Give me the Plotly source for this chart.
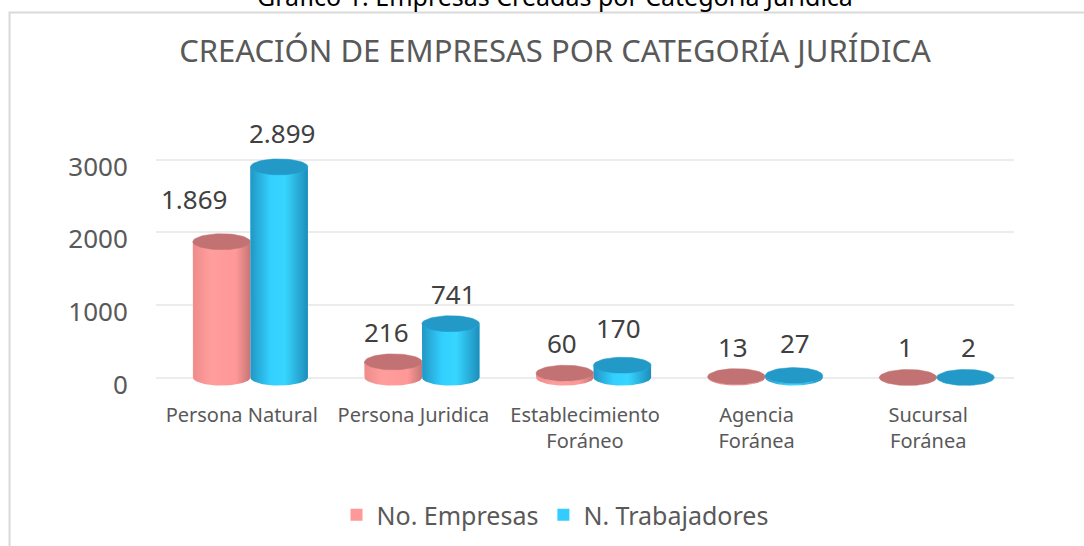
import numpy as np
import plotly.graph_objects as go

# ---------------- data ----------------
categories = ["Persona Natural", "Persona Juridica", "Establecimiento Foráneo",
              "Agencia Foránea", "Sucursal Foránea"]
tick_labels = ["Persona Natural", "Persona Juridica", "Establecimiento<br>Foráneo",
               "Agencia<br>Foránea", "Sucursal<br>Foránea"]
empresas = [1869, 216, 60, 13, 1]
trabajadores = [2899, 741, 170, 27, 2]
y_ticks = [0, 1000, 2000, 3000]
series_names = ["No. Empresas", "N. Trabajadores"]

# ---------------- style ----------------
FONT = "Noto Sans"
GRAY = "#595959"
PINK = "#FF9999"
BLUE = "#33CCFF"
PINK_TOP = "#C27272"
BLUE_TOP = "#2399C8"
PINK_SCALE = [[0, "#EE8C8C"], [0.3, "#FF9D9D"], [0.75, "#FF9898"], [1, "#C77575"]]
BLUE_SCALE = [[0, "#2296C4"], [0.35, "#33D0FF"], [0.6, "#36D6FF"], [1, "#1E8DBB"]]
BAR_W = 0.335
OFFSETS = [-0.285, 0.05]
LABEL_XSHIFT = [-3, 3]
CAP_B = 110  # vertical semi-axis of cylinder ellipses, in y units

x = np.arange(len(categories))
fmt = lambda v: f"{v:,}".replace(",", ".")

fig = go.Figure()

series = [(empresas, PINK, PINK_SCALE, PINK_TOP), (trabajadores, BLUE, BLUE_SCALE, BLUE_TOP)]

# data bars (legend + base)
for (vals, col, _, _), name, off in zip(series, series_names, OFFSETS):
    fig.add_trace(go.Bar(x=x, y=vals, name=name, marker=dict(color=col, line=dict(width=0)),
                         width=BAR_W, offset=off, hoverinfo="x+y"))

# cylinder shading, computed from the data values
t_bot = np.linspace(np.pi, 2 * np.pi, 40)
t_top = np.linspace(0, -np.pi, 40)
t_full = np.linspace(0, 2 * np.pi, 60)
a = BAR_W / 2
for i in range(len(categories)):
    for (vals, col, scale, topcol), off in zip(series, OFFSETS):
        c = x[i] + off + a
        v = vals[i]
        bx = np.concatenate([[c - a, c - a], c + a * np.cos(t_bot), [c + a], c + a * np.cos(t_top)])
        by = np.concatenate([[v, 0], CAP_B * np.sin(t_bot), [v], v + CAP_B * np.sin(t_top)])
        fig.add_trace(go.Scatter(x=bx, y=by, mode="lines", fill="toself", line=dict(width=0),
                                 fillgradient=dict(type="horizontal", colorscale=scale),
                                 showlegend=False, hoverinfo="skip"))
        fig.add_trace(go.Scatter(x=c + a * np.cos(t_full), y=v + CAP_B * np.sin(t_full),
                                 mode="lines", fill="toself", fillcolor=topcol,
                                 line=dict(width=0.5, color=topcol),
                                 showlegend=False, hoverinfo="skip"))

# value labels
label_tweaks = {(0, 0): (-25, 13), (1, 0): (0, 4), (1, 2): (-7, 7), (1, 3): (-2, 3), (0, 1): (-4, 0)}
for s, ((vals, *_), off) in enumerate(zip(series, OFFSETS)):
    for i, v in enumerate(vals):
        dx, dy = label_tweaks.get((s, i), (0, 0))
        fig.add_annotation(x=x[i] + off + a, y=v, text=fmt(v), showarrow=False,
                           xref="x", yref="y", yanchor="bottom",
                           xshift=LABEL_XSHIFT[s] + dx, yshift=10 + dy,
                           font=dict(family=FONT, size=26, color="#404040"))

# cut-off figure caption at the very top
fig.add_annotation(text="Gráfico 1. Empresas Creadas por Categoría Jurídica", xref="paper", yref="paper",
                   x=0.465, y=1.615, yanchor="middle", showarrow=False,
                   font=dict(family=FONT, size=25, color="#000000"))

# frame around chart
fig.add_shape(type="rect", xref="paper", yref="paper", x0=-0.1707, x1=1.1, y0=-0.72, y1=1.548,
              line=dict(color="#D9D9D9", width=2), fillcolor="rgba(0,0,0,0)", layer="below")

fig.update_layout(
    width=1084, height=546,
    paper_bgcolor="white", plot_bgcolor="white",
    margin=dict(l=156, r=70, t=145, b=159, autoexpand=False),
    barmode="overlay",
    font=dict(family=FONT, color=GRAY),
    title=dict(text="CREACIÓN DE EMPRESAS POR CATEGORÍA JURÍDICA", x=0.512, xanchor="center",
               y=1 - 51 / 546, yanchor="middle", yref="container",
               font=dict(family=FONT, size=31, color=GRAY)),
    legend=dict(orientation="h", x=0.512, xanchor="center", y=1 - 515 / 546, yanchor="middle",
                xref="container", yref="container",
                font=dict(family=FONT, size=25, color=GRAY), itemclick=False),
    showlegend=True,
    xaxis=dict(range=[-0.5, 4.5], tickvals=list(x), ticktext=tick_labels, showgrid=False,
               zeroline=False, showline=False, ticks="outside", ticklen=10,
               tickcolor="rgba(0,0,0,0)", tickfont=dict(family=FONT, size=20, color=GRAY)),
    yaxis=dict(range=[-130, 3200], tickvals=y_ticks, ticktext=[str(t) for t in y_ticks],
               showgrid=True, gridcolor="#ECECEC", gridwidth=1.5, zeroline=False, showline=False,
               ticks="outside", ticklen=22, tickcolor="rgba(0,0,0,0)", ticklabelshift=7,
               tickfont=dict(family=FONT, size=26, color=GRAY)),
)

fig.write_html("out.html", config={"displayModeBar": False},
               post_script="document.body.style.margin='0';")
